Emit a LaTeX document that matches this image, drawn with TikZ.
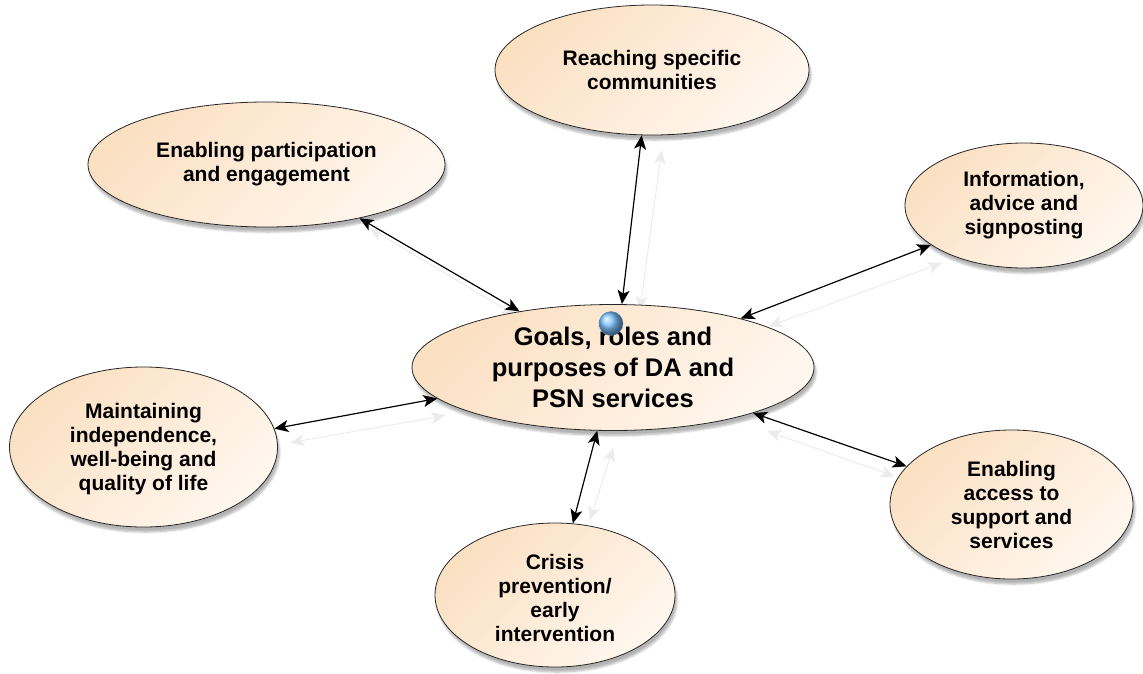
\documentclass[tikz,border=0pt]{standalone}
\usepackage{fontspec}
\setmainfont{Liberation Sans}
\usetikzlibrary{arrows.meta,shapes.geometric,shadows.blur,backgrounds}
\definecolor{peachA}{RGB}{251,224,194}
\definecolor{peachB}{RGB}{255,247,239}
\definecolor{ghostgray}{RGB}{236,236,236}
\definecolor{dotblue}{RGB}{125,195,255}
\begin{document}
\begin{tikzpicture}[x=1pt,y=-1pt,
  bubble/.style={ellipse, draw=black!85, line width=0.8pt, top color=peachA, bottom color=peachB, shading angle=45,
    blur shadow={shadow xshift=2pt, shadow yshift=-5pt, shadow blur steps=6, shadow opacity=30}, inner sep=0pt},
  txt/.style={font=\bfseries\fontsize{21}{24}\selectfont, align=center, text=black},
  bigtxt/.style={font=\bfseries\fontsize{25.5}{31}\selectfont, align=center, text=black},
  link/.style={{Stealth[length=14pt,width=12pt,inset=3.5pt]}-{Stealth[length=14pt,width=12pt,inset=3.5pt]}, line width=1.2pt, draw=black},
  ghost/.style={link, draw=ghostgray, line width=1pt}]
\useasboundingbox (0,0) rectangle (1143,673);

\node[bubble, minimum width=402pt, minimum height=126pt,
  label={[bigtxt]center:{Goals, roles and\\purposes of DA and\\PSN services}}] (C) at (613,367.5) {};
\node[bubble, minimum width=314pt, minimum height=130pt,
  label={[txt]center:{Reaching specific\\communities}}] (T) at (652,70) {};
\node[bubble, minimum width=357pt, minimum height=125pt,
  label={[txt]center:{Enabling participation\\and engagement}}] (P) at (266.5,164.5) {};
\node[bubble, minimum width=238pt, minimum height=125pt,
  label={[txt]center:{Information,\\advice and\\signposting}}] (I) at (1024,205.5) {};
\node[bubble, minimum width=268pt, minimum height=160pt,
  label={[txt,yshift=-2pt]center:{Maintaining\\independence,\\well-being and\\quality of life}}] (M) at (143.5,447) {};
\node[bubble, minimum width=243pt, minimum height=149pt,
  label={[txt]center:{Enabling\\access to\\support and\\services}}] (A) at (1011.5,504.5) {};
\node[bubble, minimum width=240pt, minimum height=144pt,
  label={[txt,yshift=-3pt]center:{Crisis\\prevention/\\early\\intervention}}] (K) at (555,595) {};

\begin{scope}[on background layer]
  \draw[ghost] ([shift={(18,6)}]C.82) -- ([shift={(20,15)}]T.261.5);
  \draw[ghost] ([shift={(10,10)}]P.-30) -- ([shift={(-4,4)}]C.149.4);
  \draw[ghost] ([shift={(28,8)}]C.21) -- ([shift={(11,18)}]I.203);
  \draw[ghost] ([shift={(16,14)}]M.8) -- ([shift={(8,17)}]C.190.4);
  \draw[ghost] ([shift={(14,18)}]C.-18) -- ([shift={(-12,10)}]A.160.6);
  \draw[ghost] ([shift={(16,17)}]C.256.7) -- ([shift={(17,-3)}]K.76);
\end{scope}

\draw[link] (C.82) -- (T.261.5);
\draw[link] (P.-30) -- (C.149.4);
\draw[link] (C.21) -- (I.203);
\draw[link] (M.8) -- (C.190.4);
\draw[link] (C.-18) -- (A.160.6);
\draw[link] (C.256.7) -- (K.76);

\node[circle, minimum size=24pt, inner sep=0pt, ball color=dotblue, draw=dotblue!70!black, line width=0.4pt] (dot) at (611,323.5) {};
\end{tikzpicture}
\end{document}
